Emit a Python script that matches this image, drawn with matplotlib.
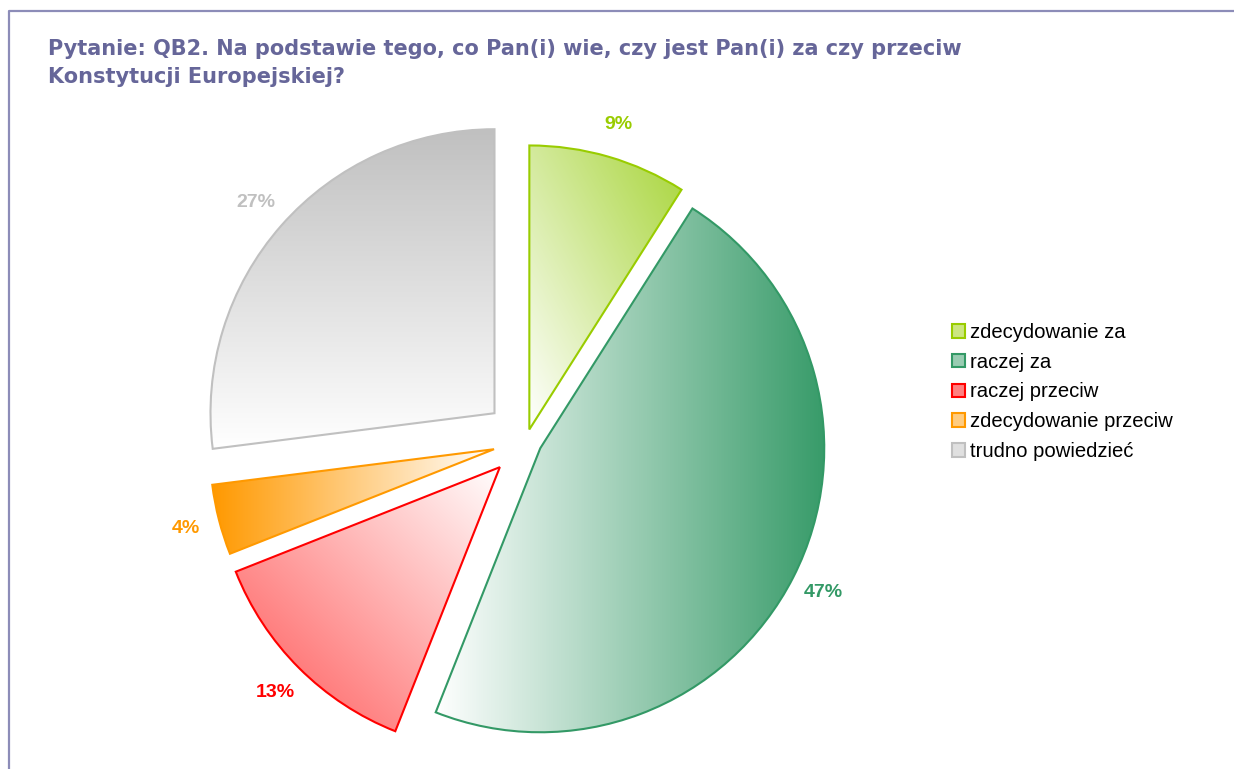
import numpy as np
import matplotlib
matplotlib.use('Agg')
import matplotlib.pyplot as plt
from matplotlib.patches import Patch
from matplotlib.lines import Line2D

# dane z wykresu
kategorie = ['zdecydowanie za', 'raczej za', 'raczej przeciw',
             'zdecydowanie przeciw', 'trudno powiedzieć']
procenty = [9, 47, 13, 4, 27]
kolory = ['#99cc00', '#339966', '#ff0000', '#ff9900', '#c0c0c0']
kolory_gradientu = ['#a8d53a', '#339966', '#ff5555', '#ff9900', '#c0c0c0']
# kierunek gradientu (od bieli do koloru), w stopniach
kierunki = [45, 0, 225, 180, 90]
# wysunięcie kawałków (w pikselach)
wysuniecie = [12, 16, 37, 33, 42]

tytul = ('Pytanie: QB2. Na podstawie tego, co Pan(i) wie, czy jest Pan(i) za czy przeciw\n'
         'Konstytucji Europejskiej?')

W, H = 1234, 769
fig = plt.figure(figsize=(W / 100, H / 100), dpi=100)
ax = fig.add_axes([0, 0, 1, 1])

wedges, _, autotexts = ax.pie(
    procenty, explode=wysuniecie, startangle=90, counterclock=False,
    center=(526, H - 441), radius=284, autopct='%.0f%%', pctdistance=1.12,
    frame=True,
    wedgeprops=dict(linewidth=1.5, facecolor='none'),
    textprops=dict(fontsize=14, fontweight='bold', family='Liberation Sans'))


def gradient(wedge, kolor, kat):
    v = wedge.get_path().vertices
    x0, y0 = v.min(axis=0)
    x1, y1 = v.max(axis=0)
    n = 300
    xx, yy = np.meshgrid(np.linspace(0, 1, n), np.linspace(0, 1, n))
    a = np.deg2rad(kat)
    t = xx * np.cos(a) + yy * np.sin(a)
    t = (t - t.min()) / (t.max() - t.min())
    c = np.array(matplotlib.colors.to_rgb(kolor))
    img = (1 - t[..., None]) * np.ones(3) + t[..., None] * c
    im = ax.imshow(img, extent=(x0, x1, y0, y1), origin='lower',
                   interpolation='bilinear', zorder=0.5, aspect='auto')
    im.set_clip_path(wedge)


for w, k, kg, kat, t in zip(wedges, kolory, kolory_gradientu, kierunki, autotexts):
    w.set_edgecolor(k)
    w.set_zorder(1)
    gradient(w, kg, kat)
    t.set_color(k)

ax.set_xlim(0, W)
ax.set_ylim(0, H)
ax.set_aspect('equal')
ax.axis('off')

uchwyty = [Patch(facecolor=matplotlib.colors.to_hex(
    0.5 * np.array(matplotlib.colors.to_rgb(k)) + 0.5), edgecolor=k, linewidth=1.5)
    for k in kolory]
fig.legend(uchwyty, kategorie, loc='upper left', bbox_to_anchor=(952 / W, 1 - 323 / H),
           frameon=False, prop=dict(family='Liberation Sans', size=14.6),
           handlelength=0.65, handleheight=0.65, handletextpad=0.25,
           labelspacing=0.53, borderpad=0, borderaxespad=0)

fig.text(48 / W, 1 - 39 / H, tytul, ha='left', va='top', fontsize=15,
         fontweight='bold', color='#666699', family='DejaVu Sans', linespacing=1.5)

ramka = '#8c8cb8'
fig.add_artist(Line2D([8.5 / W, 8.5 / W, 1], [0, 1 - 10.5 / H, 1 - 10.5 / H],
                      transform=fig.transFigure, color=ramka, linewidth=1.6))

fig.savefig('out.png', dpi=100)
